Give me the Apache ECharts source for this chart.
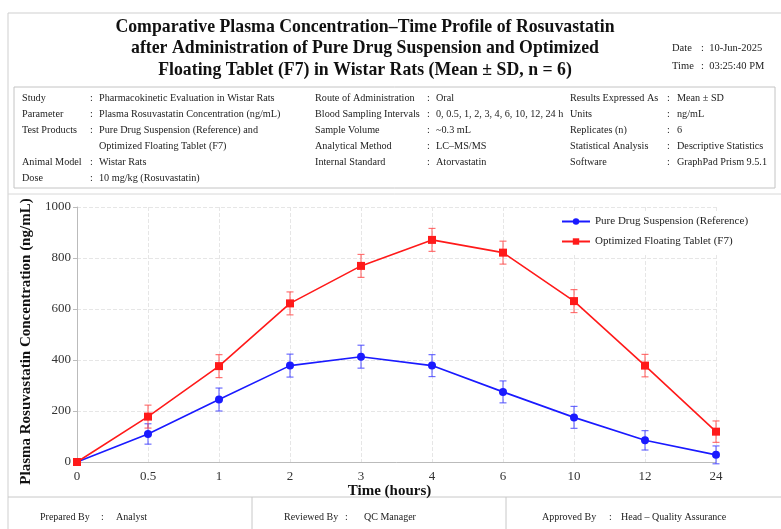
<!DOCTYPE html>
<html>
<head>
<meta charset="utf-8">
<script src="https://cdn.jsdelivr.net/npm/echarts@6/dist/echarts.min.js"></script>
<style>
  html, body { margin: 0; padding: 0; background: #ffffff; }
  #chart { width: 781px; height: 529px; }
</style>
</head>
<body>
<div id="chart"></div>
<script>
// Sampling times (h) and plasma concentrations (ng/mL), mean and SD, n = 6
const timeLabels = ['0', '0.5', '1', '2', '3', '4', '6', '10', '12', '24'];
const pureMean = [0, 110, 245, 378, 413, 378, 275, 175, 85, 28];
const pureSD   = [0, 40, 45, 45, 45, 43, 43, 43, 38, 35];
const f7Mean   = [0, 178, 376, 622, 769, 871, 821, 631, 378, 119];
const f7SD     = [0, 45, 45, 45, 45, 45, 45, 45, 44, 42];
const yTicks   = [0, 200, 400, 600, 800, 1000];

const pureName = 'Pure Drug Suspension (Reference)';
const f7Name = 'Optimized Floating Tablet (F7)';
const SERIF = '"Liberation Serif", "DejaVu Serif", serif';

// Header rows: [label, value] per column
const infoCol1 = [
  ['Study', 'Pharmacokinetic Evaluation in Wistar Rats'],
  ['Parameter', 'Plasma Rosuvastatin Concentration (ng/mL)'],
  ['Test Products', 'Pure Drug Suspension (Reference) and'],
  ['', 'Optimized Floating Tablet (F7)'],
  ['Animal Model', 'Wistar Rats'],
  ['Dose', '10 mg/kg (Rosuvastatin)']
];
const infoCol2 = [
  ['Route of Administration', 'Oral'],
  ['Blood Sampling Intervals', '0, 0.5, 1, 2, 3, 4, 6, 10, 12, 24 h'],
  ['Sample Volume', '~0.3 mL'],
  ['Analytical Method', 'LC–MS/MS'],
  ['Internal Standard', 'Atorvastatin']
];
const infoCol3 = [
  ['Results Expressed As', 'Mean ± SD'],
  ['Units', 'ng/mL'],
  ['Replicates (n)', '6'],
  ['Statistical Analysis', 'Descriptive Statistics'],
  ['Software', 'GraphPad Prism 9.5.1']
];
const footerItems = [
  ['Prepared By', 'Analyst'],
  ['Reviewed By', 'QC Manager'],
  ['Approved By', 'Head – Quality Assurance']
];
const titleLines = [
  'Comparative Plasma Concentration–Time Profile of Rosuvastatin',
  'after Administration of Pure Drug Suspension and Optimized',
  'Floating Tablet (F7) in Wistar Rats (Mean ± SD, n = 6)'
];

function txt(x, y, text, opts, extra) {
  return Object.assign({
    type: 'text', x: x, y: y, silent: true,
    style: Object.assign({
      text: text, fill: '#222', font: '10.2px ' + SERIF,
      textVerticalAlign: 'middle'
    }, opts || {})
  }, extra || {});
}

function infoBlock(rows, xLabel, xColon, xValue, y0, dy) {
  const out = [];
  rows.forEach(function (r, i) {
    const y = y0 + i * dy;
    if (r[0]) {
      out.push(txt(xLabel, y, r[0]));
      out.push(txt(xColon, y, ':'));
    }
    out.push(txt(xValue, y, r[1]));
  });
  return out;
}

function errorBars(mean, sd) {
  return mean.map(function (m, i) { return [i, m - sd[i], m + sd[i]]; });
}

function errorSeries(name, data, color) {
  return {
    type: 'custom', name: name + ' SD', data: data, z: 3, silent: true,
    renderItem: function (params, api) {
      const i = api.value(0);
      const lo = api.coord([i, api.value(1)]);
      const hi = api.coord([i, api.value(2)]);
      const w = 3.5;
      const st = { stroke: color, lineWidth: 1.2 };
      return {
        type: 'group',
        children: [
          { type: 'line', shape: { x1: lo[0], y1: lo[1], x2: hi[0], y2: hi[1] }, style: st },
          { type: 'line', shape: { x1: lo[0] - w, y1: lo[1], x2: lo[0] + w, y2: lo[1] }, style: st },
          { type: 'line', shape: { x1: hi[0] - w, y1: hi[1], x2: hi[0] + w, y2: hi[1] }, style: st }
        ]
      };
    }
  };
}

// footer: label x, colon x, value x
const footerPos = [[40, 101, 116], [284, 345, 364], [542, 609, 621]];

const graphics = [].concat(
  [
    // outer frame, header box, chart and footer separators
    { type: 'rect', shape: { x: 8, y: 13, width: 790, height: 530 }, style: { fill: 'none', stroke: '#cfcfcf', lineWidth: 1 }, silent: true },
    { type: 'rect', shape: { x: 14, y: 87, width: 761, height: 101 }, style: { fill: 'none', stroke: '#c4c4c4', lineWidth: 1 }, silent: true },
    { type: 'line', shape: { x1: 8, y1: 194, x2: 781, y2: 194 }, style: { stroke: '#d8d8d8', lineWidth: 1 }, silent: true },
    { type: 'line', shape: { x1: 8, y1: 497, x2: 781, y2: 497 }, style: { stroke: '#c8c8c8', lineWidth: 1 }, silent: true },
    { type: 'line', shape: { x1: 252, y1: 497, x2: 252, y2: 529 }, style: { stroke: '#c8c8c8', lineWidth: 1 }, silent: true },
    { type: 'line', shape: { x1: 506, y1: 497, x2: 506, y2: 529 }, style: { stroke: '#c8c8c8', lineWidth: 1 }, silent: true },
    // date and time stamp
    txt(672, 48, 'Date', { font: '10.5px ' + SERIF }),
    txt(701, 48, ':  10-Jun-2025', { font: '10.5px ' + SERIF }),
    txt(672, 66, 'Time', { font: '10.5px ' + SERIF }),
    txt(701, 66, ':  03:25:40 PM', { font: '10.5px ' + SERIF })
  ],
  titleLines.map(function (t, i) {
    return txt(365, 27 + i * 21.5, t,
      { font: 'bold 19px ' + SERIF, textAlign: 'center', fill: '#111' },
      { scaleX: 0.935 });
  }),
  infoBlock(infoCol1, 22, 90, 99, 98, 16),
  infoBlock(infoCol2, 315, 427, 436, 98, 16),
  infoBlock(infoCol3, 570, 667, 677, 98, 16),
  footerItems.map(function (f, i) {
    const p = footerPos[i];
    return [
      txt(p[0], 517, f[0], { font: '10px ' + SERIF }),
      txt(p[1], 517, ':', { font: '10px ' + SERIF }),
      txt(p[2], 517, f[1], { font: '10px ' + SERIF })
    ];
  }).reduce(function (a, b) { return a.concat(b); }, [])
);

const chart = echarts.init(document.getElementById('chart'), null, { renderer: 'canvas' });
chart.setOption({
  backgroundColor: '#ffffff',
  animation: false,
  textStyle: { fontFamily: SERIF },
  grid: { left: 77, right: 65, top: 207, bottom: 67 },
  legend: {
    left: 555, top: 212, orient: 'vertical',
    itemWidth: 28, itemHeight: 8, itemGap: 9,
    backgroundColor: '#ffffff', padding: [4, 8, 6, 6],
    textStyle: { fontFamily: SERIF, fontSize: 11, color: '#222' },
    data: [pureName, f7Name]
  },
  xAxis: {
    type: 'category', data: timeLabels, boundaryGap: false,
    name: 'Time (hours)', nameLocation: 'middle', nameGap: 22,
    nameTextStyle: {
      fontFamily: SERIF, fontWeight: 'bold', fontSize: 15, color: '#111',
      padding: [0, 14, 0, 0]
    },
    axisLine: { lineStyle: { color: '#bbbbbb' } },
    axisTick: { show: false },
    axisLabel: { fontFamily: SERIF, fontSize: 13, color: '#333', margin: 8 },
    splitLine: { show: true, lineStyle: { color: '#e6e6e6', type: 'dashed' } }
  },
  yAxis: {
    type: 'value', min: 0, max: 1000, interval: 200,
    name: 'Plasma Rosuvastatin Concentration (ng/mL)', nameLocation: 'middle', nameGap: 42,
    nameTextStyle: {
      fontFamily: SERIF, fontWeight: 'bold', fontSize: 15, color: '#111',
      padding: [0, 14, 0, 0]
    },
    axisLine: { show: true, lineStyle: { color: '#bbbbbb' } },
    axisTick: { show: true, length: 4, lineStyle: { color: '#bbbbbb' } },
    axisLabel: {
      fontFamily: SERIF, fontSize: 13, color: '#333', margin: 6,
      customValues: yTicks,
      formatter: function (v) { return String(v); }
    },
    splitLine: { show: true, lineStyle: { color: '#e6e6e6', type: 'dashed' } }
  },
  series: [
    errorSeries(pureName, errorBars(pureMean, pureSD), 'rgba(60,60,255,0.75)'),
    errorSeries(f7Name, errorBars(f7Mean, f7SD), 'rgba(255,70,70,0.75)'),
    {
      name: pureName, type: 'line', data: pureMean, z: 4,
      symbol: 'circle', symbolSize: 8,
      lineStyle: { color: '#1a1aff', width: 1.6 },
      itemStyle: { color: '#1a1aff' }
    },
    {
      name: f7Name, type: 'line', data: f7Mean, z: 4,
      symbol: 'rect', symbolSize: 8,
      lineStyle: { color: '#ff1a1a', width: 1.6 },
      itemStyle: { color: '#ff1a1a' }
    }
  ],
  graphic: graphics
});
</script>
</body>
</html>
